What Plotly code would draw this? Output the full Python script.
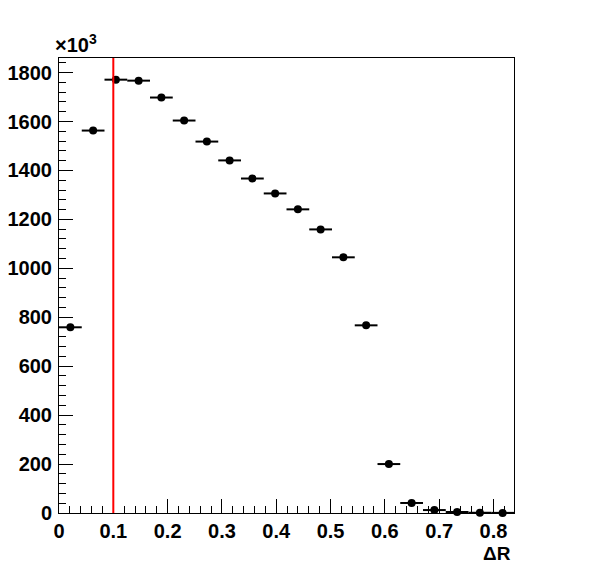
import numpy as np
import plotly.graph_objects as go

# Data (values in units of 10^3)
x_min, x_max, n_bins = 0.0, 0.8378, 20
counts = [759, 1563, 1771, 1767, 1698, 1604, 1518, 1441, 1367, 1306,
          1241, 1159, 1045, 767, 200, 41, 12, 4, 1, 0.5]
cut_value = 0.1
x_ticks = [0, 0.1, 0.2, 0.3, 0.4, 0.5, 0.6, 0.7, 0.8]
x_tick_labels = ["0", "0.1", "0.2", "0.3", "0.4", "0.5", "0.6", "0.7", "0.8"]
y_ticks = [0, 200, 400, 600, 800, 1000, 1200, 1400, 1600, 1800]

width = (x_max - x_min) / n_bins
centers = [x_min + (i + 0.5) * width for i in range(n_bins)]
y_top = 1.05 * max(counts)

FONT = "Liberation Sans, Arial, Helvetica, sans-serif"
TXT = dict(family=FONT, size=20, color="black", weight="bold")

fig = go.Figure()
fig.add_trace(go.Scatter(
    x=centers, y=counts, mode="markers",
    marker=dict(color="black", size=8, symbol="circle"),
    error_x=dict(type="constant", value=width / 2, color="black",
                 thickness=2, width=0),
    showlegend=False, cliponaxis=False,
))

fig.add_shape(type="line", x0=cut_value, x1=cut_value, y0=0, y1=y_top,
              xref="x", yref="y", line=dict(color="#ff0000", width=2))

axis_common = dict(
    showgrid=False, zeroline=False, showline=True, linecolor="black",
    linewidth=1, mirror=True, ticks="inside", tickcolor="black",
    ticklen=14, tickwidth=1, tickfont=TXT, automargin=False,
)

fig.update_xaxes(range=[x_min, x_max], tickvals=x_ticks, ticktext=x_tick_labels,
                 ticklabelstandoff=0,
                 minor=dict(ticks="inside", ticklen=7, dtick=0.02, tickcolor="black"),
                 **axis_common)
fig.update_yaxes(range=[0, y_top], tickvals=y_ticks, ticklabelstandoff=2,
                 minor=dict(ticks="inside", ticklen=7, dtick=40, tickcolor="black"),
                 **axis_common)

fig.add_annotation(text="×10<sup>3</sup>", xref="paper", yref="paper",
                   x=0, y=1, xanchor="left", yanchor="bottom", xshift=-6,
                   showarrow=False, font=TXT)
fig.add_annotation(text="ΔR", xref="paper", yref="paper",
                   x=1, y=0, xanchor="right", yanchor="top", yshift=-28, xshift=-1,
                   showarrow=False, font=dict(family=FONT, size=19, color="black", weight="bold"))

fig.update_layout(
    width=588, height=564,
    margin=dict(l=51, r=82, t=50, b=59),
    paper_bgcolor="white", plot_bgcolor="white",
)

fig.write_html("out.html")
